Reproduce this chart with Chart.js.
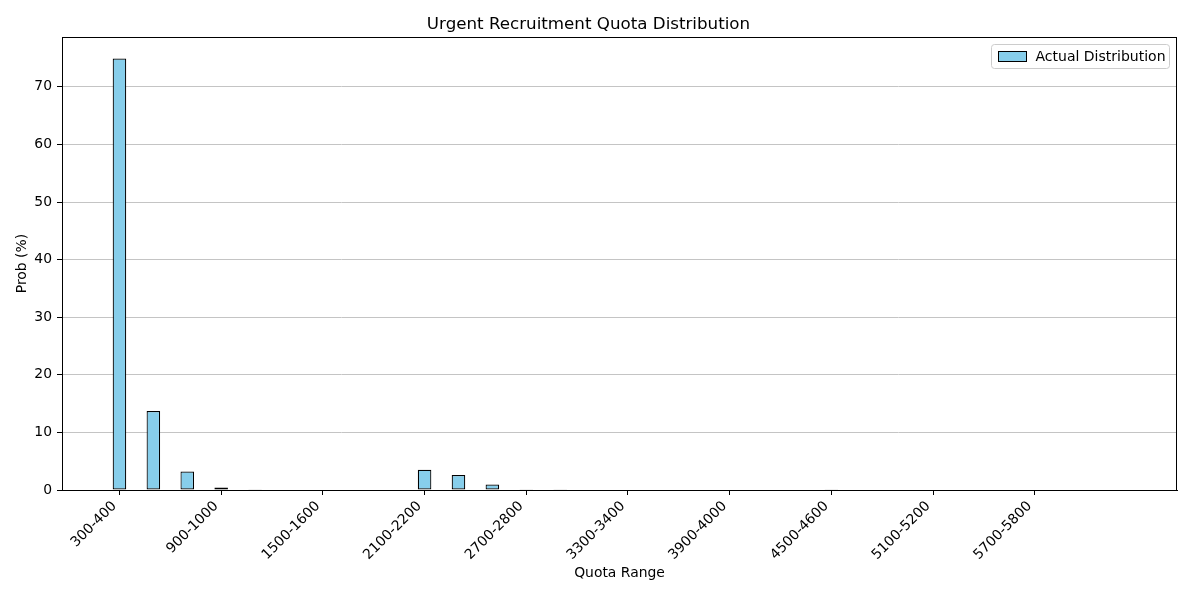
<!DOCTYPE html>
<html>
<head>
<meta charset="utf-8">
<script src="https://cdn.jsdelivr.net/npm/chart.js@4.4.1/dist/chart.umd.min.js"></script>
<style>
  html, body { margin: 0; padding: 0; background: #ffffff; }
  #c { display: block; }
</style>
</head>
<body>
<canvas id="c" width="1192" height="596"></canvas>
<script>
// ---- data ----
const categories = [
  "300-400","400-500","500-600","600-700","700-800","800-900","900-1000","1000-1100","1100-1200","1200-1300",
  "1300-1400","1400-1500","1500-1600","1600-1700","1700-1800","1800-1900","1900-2000","2000-2100","2100-2200","2200-2300",
  "2300-2400","2400-2500","2500-2600","2600-2700","2700-2800","2800-2900","2900-3000","3000-3100","3100-3200","3200-3300",
  "3300-3400","3400-3500","3500-3600","3600-3700","3700-3800","3800-3900","3900-4000","4000-4100","4100-4200","4200-4300",
  "4300-4400","4400-4500","4500-4600","4600-4700","4700-4800","4800-4900","4900-5000","5000-5100","5100-5200","5200-5300",
  "5300-5400","5400-5500","5500-5600","5600-5700","5700-5800","5800-5900","5900-6000","6000-6100","6100-6200","6200-6300"
];
const actualProb = [
  74.9, 0, 13.7, 0, 3.2, 0, 0.45, 0, 0.15, 0,
  0, 0, 0, 0, 0, 0, 0, 0, 3.5, 0,
  2.6, 0, 0.95, 0, 0.12, 0, 0.12, 0, 0, 0,
  0, 0, 0, 0, 0, 0, 0, 0, 0.1, 0,
  0.1, 0, 0.12, 0, 0, 0, 0, 0, 0, 0,
  0, 0, 0, 0, 0, 0, 0, 0, 0, 0
];
const shownTickIndices = [0, 6, 12, 18, 24, 30, 36, 42, 48, 54];
const yTicks = [0, 10, 20, 30, 40, 50, 60, 70];

const FONT = "'DejaVu Sans', sans-serif";
const n = categories.length;
const barW = 0.8;
const span = (n - 1) + barW;
const xMin = -barW / 2 - 0.05 * span;
const xMax = (n - 1) + barW / 2 + 0.05 * span;
const yMax = Math.max(...actualProb) * 1.05;

const points = actualProb.map((v, i) => ({ x: i, y: v }));

function roundRect(ctx, x0, y0, x1, y1, r) {
  ctx.beginPath();
  ctx.moveTo(x0 + r, y0);
  ctx.lineTo(x1 - r, y0);
  ctx.quadraticCurveTo(x1, y0, x1, y0 + r);
  ctx.lineTo(x1, y1 - r);
  ctx.quadraticCurveTo(x1, y1, x1 - r, y1);
  ctx.lineTo(x0 + r, y1);
  ctx.quadraticCurveTo(x0, y1, x0, y1 - r);
  ctx.lineTo(x0, y0 + r);
  ctx.quadraticCurveTo(x0, y0, x0 + r, y0);
  ctx.closePath();
}

const framePlugin = {
  id: 'frameAndLegend',
  afterDraw(chart) {
    const ca = chart.chartArea;
    const ctx = chart.ctx;
    ctx.save();
    // axes frame
    ctx.strokeStyle = '#000000';
    ctx.lineWidth = 1;
    ctx.strokeRect(Math.round(ca.left) + 0.5, Math.round(ca.top) + 0.5,
                   Math.round(ca.right - ca.left) - 1, Math.round(ca.bottom - ca.top));
    // legend
    const ds = chart.data.datasets[0];
    ctx.font = "14px " + FONT;
    const tw = ctx.measureText(ds.label).width;
    const x1 = Math.round(ca.right) - 7.5;
    const y0 = Math.round(ca.top) + 7.5;
    const y1 = y0 + 24;
    const x0 = x1 - (6 + 28 + 10 + tw + 4);
    roundRect(ctx, x0, y0, x1, y1, 3);
    ctx.fillStyle = 'rgba(255,255,255,0.8)';
    ctx.fill();
    ctx.strokeStyle = '#cccccc';
    ctx.stroke();
    const px = Math.round(x0 + 6) + 0.5, py = Math.round(y0 + 6) + 0.5;
    ctx.fillStyle = ds.backgroundColor;
    ctx.fillRect(px, py, 28, 10);
    ctx.strokeStyle = ds.borderColor;
    ctx.lineWidth = 1;
    ctx.strokeRect(px, py, 28, 10);
    ctx.fillStyle = '#000';
    ctx.textBaseline = 'middle';
    ctx.textAlign = 'left';
    ctx.fillText(ds.label, x0 + 6 + 28 + 10, y0 + 12.5);
    ctx.restore();
  }
};

new Chart(document.getElementById('c'), {
  type: 'bar',
  data: {
    datasets: [{
      label: 'Actual Distribution',
      data: points,
      backgroundColor: '#87ceeb',
      borderColor: '#000000',
      borderWidth: 1.2,
      borderSkipped: false,
      barPercentage: barW,
      categoryPercentage: 1.0
    }]
  },
  options: {
    responsive: false,
    animation: false,
    devicePixelRatio: 1,
    layout: { padding: { left: 0, right: 15, top: 0, bottom: 0 } },
    plugins: {
      title: {
        display: true,
        text: 'Urgent Recruitment Quota Distribution',
        color: '#000',
        font: { family: FONT, size: 16.7, weight: 'normal' },
        padding: { top: 15, bottom: 2 }
      },
      legend: { display: false },
      tooltip: { enabled: false }
    },
    scales: {
      x: {
        type: 'linear',
        min: xMin,
        max: xMax,
        offset: false,
        afterFit(scale) { scale.height = 106; },
        afterBuildTicks(scale) {
          scale.ticks = shownTickIndices.map(v => ({ value: v }));
        },
        ticks: {
          autoSkip: false,
          includeBounds: false,
          minRotation: 45,
          maxRotation: 45,
          padding: 3,
          labelOffset: -5,
          color: '#000',
          font: { family: FONT, size: 13.9 },
          callback(value) { return categories[value] !== undefined ? categories[value] : ''; }
        },
        grid: {
          display: true,
          drawOnChartArea: false,
          drawTicks: true,
          tickLength: 5,
          tickColor: '#000',
          offset: false
        },
        border: { display: true, color: '#000' },
        title: {
          display: true,
          text: 'Quota Range',
          color: '#000',
          font: { family: FONT, size: 13.9 },
          padding: { top: 4, bottom: 14 }
        }
      },
      y: {
        type: 'linear',
        min: 0,
        max: yMax,
        z: 1,
        afterFit(scale) { scale.width = 62; },
        afterBuildTicks(scale) {
          scale.ticks = yTicks.map(v => ({ value: v }));
        },
        ticks: {
          includeBounds: false,
          padding: 5,
          color: '#000',
          font: { family: FONT, size: 13.9 }
        },
        grid: {
          display: true,
          drawOnChartArea: true,
          drawTicks: true,
          tickLength: 5,
          color: '#c4c4c4',
          tickColor: '#000',
          lineWidth: 1
        },
        border: { display: true, color: '#000' },
        title: {
          display: true,
          text: 'Prob (%)',
          color: '#000',
          font: { family: FONT, size: 13.9 },
          padding: { top: 14, bottom: 4 }
        }
      }
    }
  },
  plugins: [framePlugin]
});
</script>
</body>
</html>
